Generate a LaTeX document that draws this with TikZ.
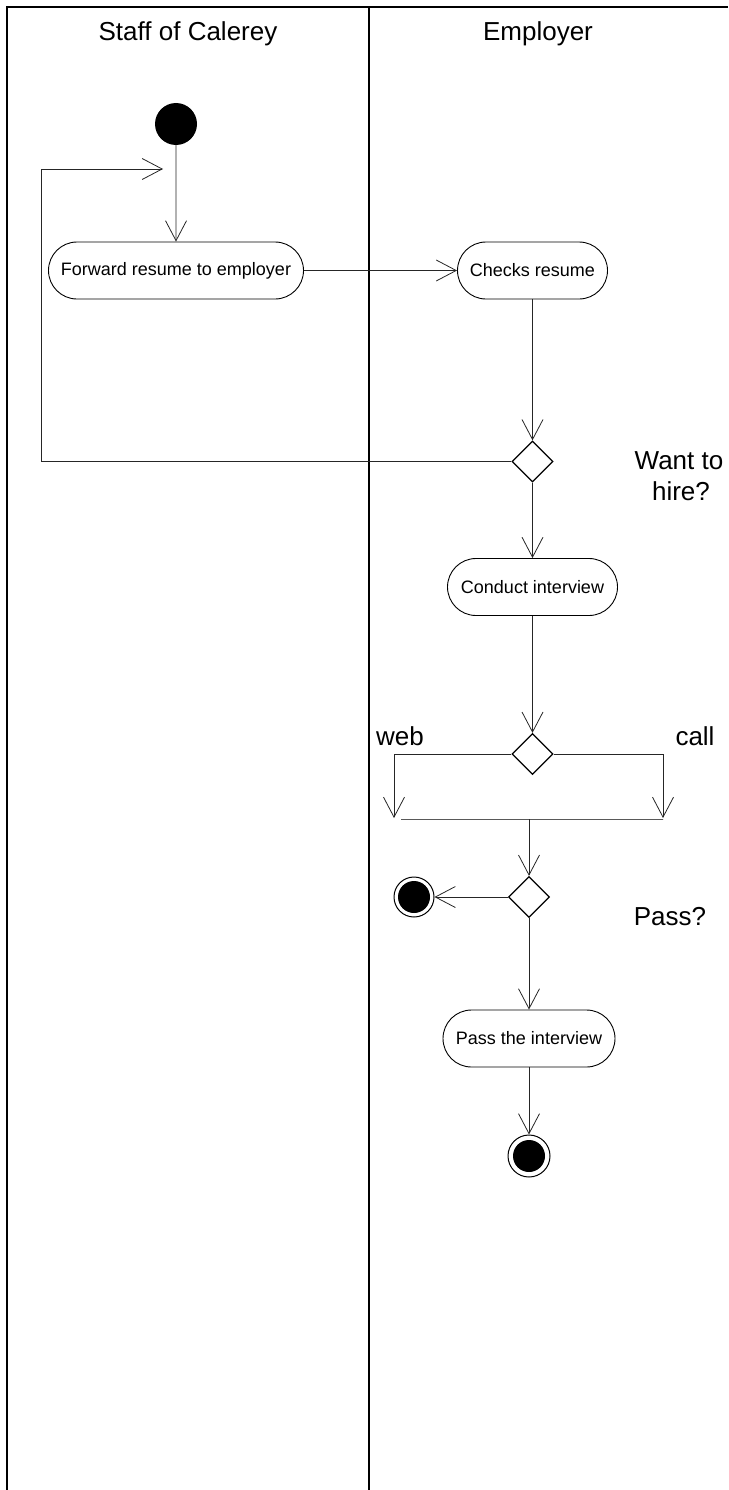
\documentclass[tikz,border=0pt]{standalone}
\usepackage{fontspec}
\setmainfont{Liberation Sans}
\usetikzlibrary{shapes.misc,shapes.geometric,arrows.meta}
\begin{document}
\begin{tikzpicture}[x=1pt,y=-1pt,
  lane/.style={line width=1.6pt,black},
  activity/.style={rounded rectangle, draw, line width=0.9pt, inner sep=0pt,
    minimum height=57pt, font=\fontsize{18}{21}\selectfont},
  decision/.style={diamond, draw, line width=1.3pt, inner sep=0pt,
    minimum size=41pt, fill=white},
  initial/.style={circle, fill=black, inner sep=0pt, minimum size=42pt},
  final/.style={circle, draw, line width=1pt, fill=white, inner sep=0pt,
    minimum size=40pt,
    path picture={\fill[black] (path picture bounding box.center) circle (16pt);}},
  flow/.style={line width=0.8pt, draw=black!85,
    -{Straight Barb[length=20pt,width=21pt,line width=0.8pt]}},
  title/.style={font=\fontsize{26}{31}\selectfont, anchor=base},
  guard/.style={font=\fontsize{26}{31}\selectfont, anchor=base}]

\useasboundingbox (0,0) rectangle (728,1490);

% swimlane frame
\draw[lane] (7,1490) -- (7,7) -- (728,7);
\draw[lane] (369,7) -- (369,1490);
\node[title] (laneA) at (188,41) {Staff of Calerey};
\node[title] (laneB) at (538,41) {Employer};

% nodes
\node[initial] (start) at (176,124) {};
\node[activity, minimum width=255pt] (fwd) at (176,270.5) {Forward resume to employer};
\node[activity, minimum width=150pt] (chk) at (532.5,270.5) {Checks resume};
\node[decision] (d1) at (532.5,461.5) {};
\node[activity, minimum width=170pt] (cond) at (532.5,587) {Conduct interview};
\node[decision] (d2) at (532.5,754) {};
\node[draw, line width=0.8pt, inner sep=0pt, minimum width=262pt,
      minimum height=0pt] (join) at (532,819) {};
\node[decision] (d3) at (529,897) {};
\node[final] (end1) at (414,897) {};
\node[activity, minimum width=172pt] (pass) at (529,1038.5) {Pass the interview};
\node[final, minimum size=42pt] (end2) at (529,1156) {};

% free ends of connectors
\coordinate (loopin) at (163,169);
\coordinate (webtip) at (394,818);
\coordinate (calltip) at (663,818);

% guard labels
\node[guard] (want) at (679,469) {Want to};
\node[guard] (hire) at (681,500) {hire?};
\node[guard] (web) at (400,745) {web};
\node[guard] (call) at (695,745) {call};
\node[guard] (passq) at (670,925) {Pass?};

% control flow
\draw[flow] (start) -- (fwd);
\draw[flow] (fwd.east) -- (chk.west);
\draw[flow] (chk.south) -- (d1.north);
\draw[flow] (d1.west) -| (41,169) -- (loopin);
\draw[flow] (d1.south) -- (cond.north);
\draw[flow] (cond.south) -- (d2.north);
\draw[flow] (d2.west) -| (webtip);
\draw[flow] (d2.east) -| (calltip);
\draw[flow] (join.center -| d3.north) -- (d3.north);
\draw[flow] (d3.west) -- (end1);
\draw[flow] (d3.south) -- (pass.north);
\draw[flow] (pass.south) -- (end2);
\end{tikzpicture}
\end{document}
